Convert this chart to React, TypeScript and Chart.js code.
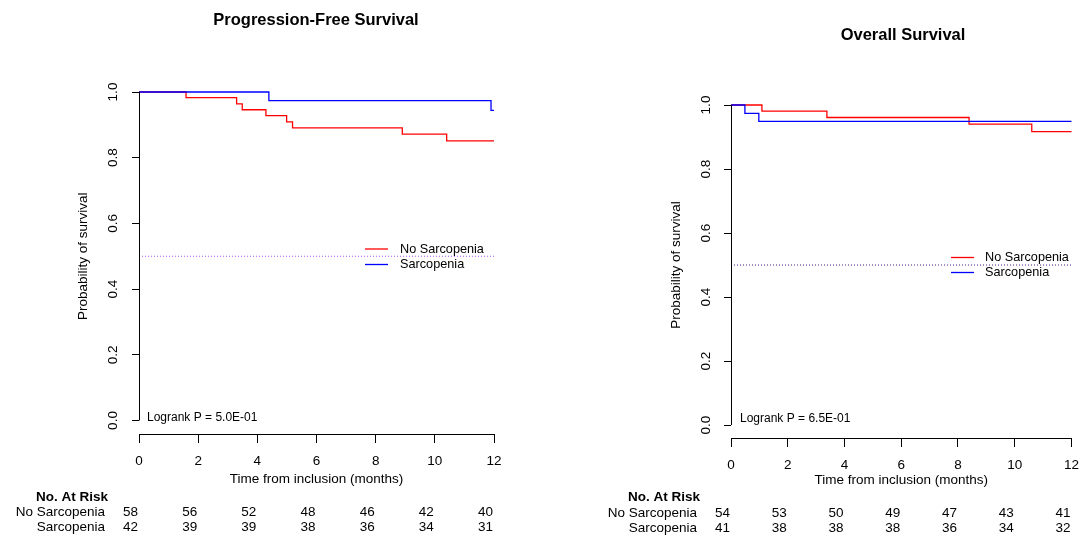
import React, { useEffect, useRef } from "react";
import { Chart, registerables } from "chart.js";

Chart.register(...registerables);

// ---------- data ----------
const timeTicks = [0, 2, 4, 6, 8, 10, 12];
const survivalTicks = [0, 0.2, 0.4, 0.6, 0.8, 1.0];
const groupNames = ["No Sarcopenia", "Sarcopenia"];

// Progression-free survival (KM step points: time, survival after event)
const pfsNoSarcTime = [0, 1.59, 3.3, 3.49, 4.29, 4.99, 5.19, 8.9, 10.4, 12];
const pfsNoSarcSurv = [1, 0.983, 0.964, 0.946, 0.928, 0.909, 0.891, 0.872, 0.851, 0.851];
const pfsSarcTime = [0, 4.39, 11.9, 12];
const pfsSarcSurv = [1, 0.974, 0.944, 0.944];
const pfsRiskNoSarc = [58, 56, 52, 48, 46, 42, 40];
const pfsRiskSarc = [42, 39, 39, 38, 36, 34, 31];

// Overall survival
const osNoSarcTime = [0, 1.09, 3.38, 8.39, 10.6, 12];
const osNoSarcSurv = [1, 0.981, 0.961, 0.94, 0.917, 0.917];
const osSarcTime = [0, 0.49, 0.98, 12];
const osSarcSurv = [1, 0.974, 0.949, 0.949];
const osRiskNoSarc = [54, 53, 50, 49, 47, 43, 41];
const osRiskSarc = [41, 38, 38, 38, 36, 34, 32];

const medianLine = [0.5, 0.5];
const medianTimes = [0, 12];

const FONT = "'Liberation Sans', Arial, Helvetica, sans-serif";

type Panel = {
  title: string;
  logrank: string;
  offsetX: number;
  width: number;
  padLeft: number;
  padRight: number;
  padTop: number;
  padBottom: number;
  yMin: number;
  titleX: number;
  titleY: number;
  yTitleX: number;
  yLabelX: number;
  xTitleY: number;
  legLineX1: number;
  legLineX2: number;
  legTextX: number;
  legY1: number;
  legY2: number;
  logX: number;
  logY: number;
  headerX: number;
  headerY: number;
  rowLabelRight: number;
  rowY1: number;
  rowY2: number;
  medianColor: string;
  noTime: number[];
  noSurv: number[];
  sTime: number[];
  sSurv: number[];
  riskNo: number[];
  riskS: number[];
};

const panels: Panel[] = [
  {
    title: "Progression-Free Survival",
    logrank: "Logrank P = 5.0E-01",
    offsetX: 0,
    width: 545,
    padLeft: 132,
    padRight: 51,
    padTop: 92,
    padBottom: 66,
    yMin: -0.0411,
    titleX: 316,
    titleY: 25,
    yTitleX: 83,
    yLabelX: 113.5,
    xTitleY: 479,
    legLineX1: 365,
    legLineX2: 388,
    legTextX: 400,
    legY1: 249,
    legY2: 264.5,
    logX: 147,
    logY: 418,
    headerX: 72,
    headerY: 497,
    rowLabelRight: 105,
    rowY1: 512.5,
    rowY2: 527.5,
    medianColor: "#b050ff",
    noTime: pfsNoSarcTime,
    noSurv: pfsNoSarcSurv,
    sTime: pfsSarcTime,
    sSurv: pfsSarcSurv,
    riskNo: pfsRiskNoSarc,
    riskS: pfsRiskSarc,
  },
  {
    title: "Overall Survival",
    logrank: "Logrank P = 6.5E-01",
    offsetX: 545,
    width: 544,
    padLeft: 179,
    padRight: 13,
    padTop: 105,
    padBottom: 62,
    yMin: -0.0406,
    titleX: 903,
    titleY: 40,
    yTitleX: 676,
    yLabelX: 706.5,
    xTitleY: 480,
    legLineX1: 951,
    legLineX2: 974,
    legTextX: 985,
    legY1: 257.5,
    legY2: 272.5,
    logX: 740,
    logY: 418.5,
    headerX: 664,
    headerY: 497.5,
    rowLabelRight: 697,
    rowY1: 513,
    rowY2: 528,
    medianColor: "#4a1a90",
    noTime: osNoSarcTime,
    noSurv: osNoSarcSurv,
    sTime: osSarcTime,
    sSurv: osSarcSurv,
    riskNo: osRiskNoSarc,
    riskS: osRiskSarc,
  },
];

function buildConfig(p: Panel): any {
  const curve = (time: number[], surv: number[], color: string, label: string) => ({
    label,
    data: time.map((t, i) => ({ x: t, y: surv[i] })),
    borderColor: color,
    backgroundColor: color,
    borderWidth: 1.3,
    pointRadius: 0,
    pointHoverRadius: 0,
    stepped: "before",
    fill: false,
    clip: false,
  });

  const textPlugin = {
    id: "kmText" + p.offsetX,
    afterDraw(chart: any) {
      const { ctx, chartArea, scales } = chart;
      const xs = scales.x;
      const ys = scales.y;
      const ox = p.offsetX;
      ctx.save();
      ctx.fillStyle = "#000";
      ctx.strokeStyle = "#000";
      ctx.lineWidth = 1;

      // y axis line spanning 0..1
      const axX = Math.round(chartArea.left) + 0.5;
      ctx.beginPath();
      ctx.moveTo(axX, ys.getPixelForValue(survivalTicks[0]));
      ctx.lineTo(axX, ys.getPixelForValue(survivalTicks[survivalTicks.length - 1]));
      ctx.stroke();

      // y tick labels (rotated)
      ctx.font = `13.5px ${FONT}`;
      ctx.textAlign = "center";
      ctx.textBaseline = "middle";
      survivalTicks.forEach((v) => {
        ctx.save();
        ctx.translate(p.yLabelX - ox, ys.getPixelForValue(v));
        ctx.rotate(-Math.PI / 2);
        ctx.fillText(v.toFixed(1), 0, 0);
        ctx.restore();
      });

      // y title
      ctx.save();
      ctx.translate(p.yTitleX - ox, (ys.getPixelForValue(0) + ys.getPixelForValue(1)) / 2);
      ctx.rotate(-Math.PI / 2);
      ctx.fillText("Probability of survival", 0, 0);
      ctx.restore();

      // x title
      ctx.fillText("Time from inclusion (months)", (chartArea.left + chartArea.right) / 2, p.xTitleY);

      // title
      ctx.font = `bold 16.5px ${FONT}`;
      ctx.textBaseline = "alphabetic";
      ctx.fillText(p.title, p.titleX - ox, p.titleY);

      // legend keys
      ctx.lineWidth = 1.3;
      ctx.strokeStyle = "#ff0000";
      ctx.beginPath();
      ctx.moveTo(p.legLineX1 - ox, p.legY1);
      ctx.lineTo(p.legLineX2 - ox, p.legY1);
      ctx.stroke();
      ctx.strokeStyle = "#0000ff";
      ctx.beginPath();
      ctx.moveTo(p.legLineX1 - ox, p.legY2);
      ctx.lineTo(p.legLineX2 - ox, p.legY2);
      ctx.stroke();
      ctx.fillStyle = "#000";
      ctx.font = `12.7px ${FONT}`;
      ctx.textAlign = "left";
      ctx.textBaseline = "middle";
      ctx.fillText(groupNames[0], p.legTextX - ox, p.legY1);
      ctx.fillText(groupNames[1], p.legTextX - ox, p.legY2);

      // logrank
      ctx.font = `12px ${FONT}`;
      ctx.fillText(p.logrank, p.logX - ox, p.logY);

      // at-risk table
      ctx.font = `bold 13.5px ${FONT}`;
      ctx.textAlign = "center";
      ctx.fillText("No. At Risk", p.headerX - ox, p.headerY);
      ctx.font = `13.5px ${FONT}`;
      ctx.textAlign = "right";
      ctx.fillText(groupNames[0], p.rowLabelRight - ox, p.rowY1);
      ctx.fillText(groupNames[1], p.rowLabelRight - ox, p.rowY2);
      timeTicks.forEach((t, i) => {
        const px = xs.getPixelForValue(t) - 1;
        ctx.fillText(String(p.riskNo[i]), px, p.rowY1);
        ctx.fillText(String(p.riskS[i]), px, p.rowY2);
      });
      ctx.restore();
    },
  };

  return {
    type: "line",
    data: {
      datasets: [
        {
          label: "median",
          data: medianTimes.map((t, i) => ({ x: t, y: medianLine[i] })),
          borderColor: p.medianColor,
          borderWidth: 1.2,
          borderDash: [1, 2],
          pointRadius: 0,
          pointHoverRadius: 0,
          fill: false,
          clip: false,
        },
        curve(p.sTime, p.sSurv, "#0000ff", groupNames[1]),
        curve(p.noTime, p.noSurv, "#ff0000", groupNames[0]),
      ],
    },
    options: {
      responsive: false,
      animation: false,
      devicePixelRatio: 1,
      events: [],
      layout: {
        padding: { left: p.padLeft, right: p.padRight, top: p.padTop, bottom: p.padBottom },
      },
      plugins: {
        legend: { display: false },
        title: { display: false },
        tooltip: { enabled: false },
      },
      scales: {
        x: {
          type: "linear",
          min: 0,
          max: 12,
          afterBuildTicks: (scale: any) => {
            scale.ticks = timeTicks.map((v) => ({ value: v }));
          },
          afterFit: (scale: any) => {
            scale.height = 40;
          },
          grid: {
            display: true,
            drawOnChartArea: false,
            drawTicks: true,
            tickLength: 9,
            color: "#000",
            lineWidth: 1,
          },
          border: { display: true, color: "#000", width: 1 },
          ticks: {
            color: "#000",
            font: { family: FONT, size: 13.5 },
            padding: 10,
            maxRotation: 0,
            minRotation: 0,
            autoSkip: false,
            callback: (v: any) => String(v),
          },
        },
        y: {
          type: "linear",
          min: p.yMin,
          max: 1,
          afterBuildTicks: (scale: any) => {
            scale.ticks = survivalTicks.map((v) => ({ value: v }));
          },
          afterFit: (scale: any) => {
            scale.width = 7;
          },
          grid: {
            display: true,
            drawOnChartArea: false,
            drawTicks: true,
            tickLength: 7,
            color: "#000",
            lineWidth: 1,
          },
          border: { display: false },
          ticks: { display: false },
        },
      },
    },
    plugins: [textPlugin],
  };
}

function KMPanel({ panel }: { panel: Panel }) {
  const ref = useRef<HTMLCanvasElement | null>(null);
  useEffect(() => {
    if (!ref.current) return;
    const chart = new Chart(ref.current, buildConfig(panel));
    return () => chart.destroy();
  }, [panel]);
  return (
    <canvas
      ref={ref}
      width={panel.width}
      height={540}
      style={{ position: "absolute", left: panel.offsetX, top: 0, width: panel.width, height: 540 }}
    />
  );
}

export default function App() {
  return (
    <div style={{ position: "absolute", left: 0, top: 0, width: 1089, height: 540, background: "#fff" }}>
      {panels.map((p) => (
        <KMPanel key={p.title} panel={p} />
      ))}
    </div>
  );
}
